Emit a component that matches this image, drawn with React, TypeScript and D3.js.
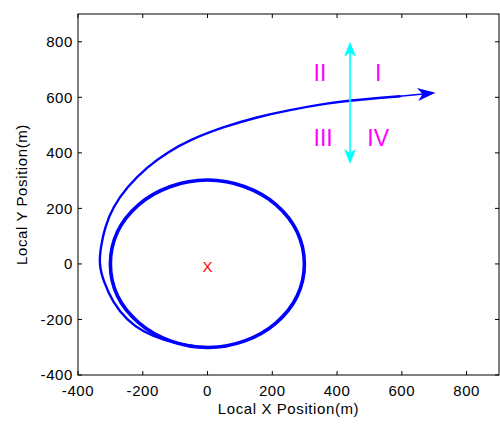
import React from 'react'
import * as d3 from 'd3'

// axis ticks
const xTicks = [-400, -200, 0, 200, 400, 600, 800]
const yTicks = [-400, -200, 0, 200, 400, 600, 800]

// holding orbit around the origin
const orbitX = [0, 115, 212, 277, 299, 277, 212, 115, 0, -115, -212, -278, -300, -278, -213, -116]
const orbitY = [302, 278, 213, 115, 0, -115, -212, -277, -301, -277, -212, -115, 0, 116, 213, 278]

// departure leg, leaving the orbit at the bottom
const exitX = [60, 0, -63, -137, -199, -249, -292, -323, -335, -330, -317, -292, -249, -187, -122, -54, 48, 153, 255, 378, 440, 533, 596]
const exitY = [-296, -302, -294, -274, -245, -202, -140, -58, 0, 60, 133, 205, 277, 349, 403, 447, 493, 529, 555, 580, 588, 598, 604]

// direction arrow at the end of the leg
const headingFrom = [570, 601]
const headingTo = [704, 616]

// cyan boundary arrow
const boundaryX = 440
const boundaryY = [360, 800]

// quadrant labels
const quadLabels = ['I', 'II', 'III', 'IV']
const quadX = [527, 347, 357, 527]
const quadY = [660, 660, 425, 425]

// centre mark
const centre = [0, -10]

const W = 500
const H = 424
const margin = { top: 14, right: 1, bottom: 49, left: 78 }
const font = 'Liberation Sans, Arial, sans-serif'

function arrowHead(tip: number[], from: number[], len: number, half: number, notch: number) {
  const dx = tip[0] - from[0]
  const dy = tip[1] - from[1]
  const d = Math.sqrt(dx * dx + dy * dy)
  const ux = dx / d
  const uy = dy / d
  const bx = tip[0] - ux * len
  const by = tip[1] - uy * len
  const nx = tip[0] - ux * notch
  const ny = tip[1] - uy * notch
  return `M${tip[0]},${tip[1]}L${bx - uy * half},${by + ux * half}L${nx},${ny}L${bx + uy * half},${by - ux * half}Z`
}

export default function App() {
  const x = d3.scaleLinear().domain([-400, 900]).range([margin.left, W - margin.right])
  const y = d3.scaleLinear().domain([-400, 900]).range([H - margin.bottom, margin.top])
  const x0 = x(-400), x1 = x(900), y0 = y(-400), y1 = y(900)

  const orbitPath = d3.line<number>()
    .curve(d3.curveCatmullRomClosed)
    .x((d, i) => x(orbitX[i]))
    .y((d, i) => y(orbitY[i]))(orbitX)
  const exitPath = d3.line<number>()
    .curve(d3.curveBasis)
    .x((d, i) => x(exitX[i]))
    .y((d, i) => y(exitY[i]))(exitX)

  const hFrom = [x(headingFrom[0]), y(headingFrom[1])]
  const hTo = [x(headingTo[0]), y(headingTo[1])]
  const bTop = [x(boundaryX), y(boundaryY[1])]
  const bBot = [x(boundaryX), y(boundaryY[0])]

  const tick = 4

  return (
    <svg width={W} height={H} style={{ position: 'absolute', left: 0, top: 0, background: '#fff' }}>
      <rect x={0} y={0} width={W} height={H} fill="#fff" />

      {/* data */}
      <path d={orbitPath || ''} fill="none" stroke="#0000ff" strokeWidth={3.6} />
      <path d={exitPath || ''} fill="none" stroke="#0000ff" strokeWidth={2.4} />
      <line x1={hFrom[0]} y1={hFrom[1]} x2={hTo[0] - 10} y2={hTo[1] + 0.9} stroke="#0000ff" strokeWidth={1.4} />
      <path d={arrowHead(hTo, hFrom, 18, 6.5, 13)} fill="#0000ff" />

      <line x1={bTop[0]} y1={bTop[1] + 8} x2={bBot[0]} y2={bBot[1] - 8} stroke="#00ffff" strokeWidth={1.6} />
      <path d={arrowHead(bTop, bBot, 15, 6, 11)} fill="#00ffff" />
      <path d={arrowHead(bBot, bTop, 15, 6, 11)} fill="#00ffff" />

      {quadLabels.map((t, i) => (
        <text key={t} x={x(quadX[i])} y={y(quadY[i])} textAnchor="middle" fill="#ff00ff"
          fontFamily={font} fontSize={23}>{t}</text>
      ))}
      <text x={x(centre[0])} y={y(centre[1])} textAnchor="middle" dominantBaseline="central"
        fill="#ff0000" fontFamily={font} fontSize={15}>X</text>

      {/* axes box */}
      <rect x={x0} y={y1} width={x1 - x0} height={y0 - y1} fill="none" stroke="#000" strokeWidth={1} />
      {xTicks.map(t => (
        <g key={'x' + t}>
          <line x1={x(t)} x2={x(t)} y1={y0} y2={y0 - tick} stroke="#000" />
          <line x1={x(t)} x2={x(t)} y1={y1} y2={y1 + tick} stroke="#000" />
          <text x={x(t)} y={y0 + 21} textAnchor="middle" fontFamily={font} fontSize={15}
            letterSpacing={0.6}>{t}</text>
        </g>
      ))}
      {yTicks.map(t => (
        <g key={'y' + t}>
          <line x1={x0} x2={x0 + tick} y1={y(t)} y2={y(t)} stroke="#000" />
          <line x1={x1} x2={x1 - tick} y1={y(t)} y2={y(t)} stroke="#000" />
          <text x={x0 - 5} y={y(t)} dy="0.36em" textAnchor="end" fontFamily={font} fontSize={15}
            letterSpacing={0.6}>{t}</text>
        </g>
      ))}
      <text x={(x0 + x1) / 2} y={414} textAnchor="middle" fontFamily={font} fontSize={15}
        letterSpacing={0.6}>Local X Position(m)</text>
      <text transform={`translate(27,${(y0 + y1) / 2}) rotate(-90)`} textAnchor="middle"
        fontFamily={font} fontSize={15} letterSpacing={0.6}>Local Y Position(m)</text>
    </svg>
  )
}
